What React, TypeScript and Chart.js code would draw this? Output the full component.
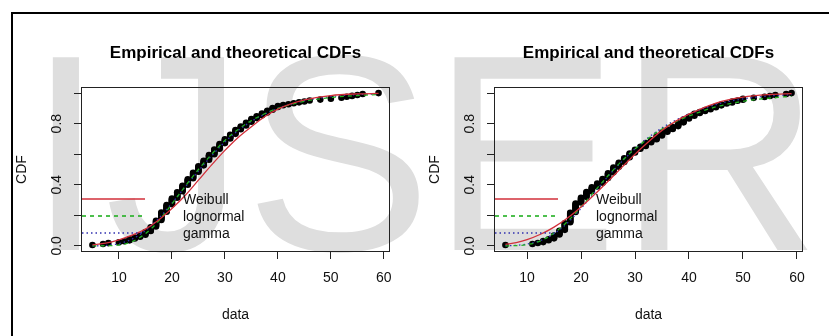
import React, { useEffect, useRef } from "react";
import { Chart, registerables } from "chart.js";

Chart.register(...registerables);

const FONT = "'Liberation Sans', Arial, Helvetica, sans-serif";
const TEXT = "#111111";
const AXIS = "#222222";
const RED = "#d22f3a";
const GREEN = "#22b022";
const BLUE = "#3030b0";

// ---------- data ----------
const titleText = "Empirical and theoretical CDFs";
const xAxisLabel = "data";
const yAxisLabel = "CDF";
const watermarkText = "IJSER";
const legendLabels = ["Weibull", "lognormal", "gamma"];
const xTicks = [10, 20, 30, 40, 50, 60];
const yTicks = [0, 0.2, 0.4, 0.6, 0.8, 1.0];
const yTickLabels = ["0.0", "", "0.4", "", "0.8", ""];

// left panel: observed (integer) values and number of observations at each value
const leftValues = [
  5, 6, 7, 8, 9, 10, 11, 12, 13, 14,
  15, 16, 17, 18, 19, 20, 21, 22, 23, 24,
  25, 26, 27, 28, 29, 30, 31, 32, 33, 34,
  35, 36, 37, 38, 39, 40, 41, 42, 43, 44,
  45, 46, 47, 48, 49, 50, 51, 52, 53, 54,
  55, 56, 57, 58, 59,
];
const leftCounts = [
  1, 0, 1, 1, 0, 1, 1, 2, 2, 2,
  4, 5, 7, 9, 8, 7, 7, 7, 7, 7,
  7, 6, 6, 6, 6, 5, 5, 5, 4, 4,
  4, 3, 3, 3, 3, 2, 1, 1, 1, 1,
  1, 1, 0, 1, 0, 1, 0, 1, 1, 1,
  1, 1, 0, 0, 1,
];
const leftCurveX = [5, 7.5, 10, 12.5, 15, 17.5, 20, 22.5, 25, 27.5, 30, 32.5, 35, 37.5, 40, 45, 50, 55, 59];
const leftWeibull = [0.006, 0.018, 0.04, 0.07, 0.11, 0.17, 0.245, 0.33, 0.43, 0.53, 0.625, 0.71, 0.78, 0.845, 0.895, 0.955, 0.984, 0.995, 0.998];
const leftLognormal = [0.0, 0.001, 0.006, 0.028, 0.08, 0.163, 0.275, 0.39, 0.5, 0.6, 0.69, 0.762, 0.82, 0.865, 0.9, 0.946, 0.971, 0.984, 0.991];
const leftGamma = [0.0, 0.003, 0.015, 0.045, 0.1, 0.18, 0.28, 0.385, 0.49, 0.59, 0.68, 0.755, 0.815, 0.862, 0.9, 0.95, 0.977, 0.99, 0.995];

// right panel
const rightValues = [
  6, 7, 8, 9, 10, 11, 12, 13, 14, 15,
  16, 17, 18, 19, 20, 21, 22, 23, 24, 25,
  26, 27, 28, 29, 30, 31, 32, 33, 34, 35,
  36, 37, 38, 39, 40, 41, 42, 43, 44, 45,
  46, 47, 48, 49, 50, 51, 52, 53, 54, 55,
  56, 57, 58, 59,
];
const rightCounts = [
  1, 0, 0, 0, 0, 1, 1, 2, 2, 4,
  5, 8, 11, 10, 6, 6, 5, 4, 5, 6,
  6, 5, 5, 5, 4, 3, 4, 3, 4, 4,
  3, 3, 4, 4, 3, 3, 2, 2, 2, 2,
  2, 1, 2, 1, 2, 0, 1, 0, 1, 1,
  1, 0, 1, 1,
];
const rightCurveX = [6, 8, 10, 12.5, 15, 17.5, 20, 22.5, 25, 27.5, 30, 32.5, 35, 37.5, 40, 45, 50, 55, 59];
const rightWeibull = [0.01, 0.022, 0.041, 0.076, 0.123, 0.183, 0.255, 0.336, 0.423, 0.512, 0.6, 0.682, 0.756, 0.815, 0.862, 0.935, 0.974, 0.991, 0.997];
const rightLognormal = [0.0, 0.002, 0.008, 0.033, 0.084, 0.16, 0.255, 0.358, 0.459, 0.554, 0.635, 0.705, 0.765, 0.812, 0.85, 0.91, 0.946, 0.968, 0.979];
const rightGamma = [0.001, 0.004, 0.012, 0.035, 0.08, 0.15, 0.245, 0.35, 0.455, 0.55, 0.636, 0.71, 0.772, 0.822, 0.862, 0.925, 0.962, 0.982, 0.99];

// ---------- helpers ----------
function ecdfPoints(values: number[], counts: number[]) {
  const n = counts.reduce((a, b) => a + b, 0);
  const pts: { x: number; y: number }[] = [];
  let k = 0;
  values.forEach((v, i) => {
    for (let j = 0; j < counts[i]; j++) {
      k += 1;
      pts.push({ x: v, y: k / n });
    }
  });
  return pts;
}

function curve(xs: number[], ys: number[]) {
  return xs.map((x, i) => ({ x, y: ys[i] }));
}

const PANEL_W = 413;
const PANEL_H = 336;

type PanelProps = {
  values: number[];
  counts: number[];
  curveX: number[];
  weibull: number[];
  lognormal: number[];
  gamma: number[];
  offsetX: number;
};

function CdfPanel({ values, counts, curveX, weibull, lognormal, gamma, offsetX }: PanelProps) {
  const ref = useRef<HTMLCanvasElement>(null);

  useEffect(() => {
    const canvas = ref.current;
    if (!canvas) return;
    const used = values.filter((_, i) => counts[i] > 0);
    const lo = Math.min(...used);
    const hi = Math.max(...used);
    const pad = (hi - lo) * 0.04;

    const decorations = {
      id: "rDecorations",
      beforeDraw(chart: any) {
        const ctx = chart.ctx;
        ctx.save();
        ctx.font = `280px ${FONT}`;
        ctx.fillStyle = "#dedede";
        ctx.textBaseline = "alphabetic";
        ctx.textAlign = "left";
        ctx.fillText(watermarkText, 27 - offsetX, 250);
        ctx.restore();
      },
      afterDraw(chart: any) {
        const ctx = chart.ctx;
        const a = chart.chartArea;
        const ys = chart.scales.y;
        ctx.save();
        // plot box
        ctx.strokeStyle = AXIS;
        ctx.lineWidth = 1;
        ctx.setLineDash([]);
        ctx.strokeRect(Math.round(a.left) + 0.5, Math.round(a.top) + 0.5, Math.round(a.right - a.left) - 1, Math.round(a.bottom - a.top) - 1);
        // rotated y tick labels
        ctx.fillStyle = TEXT;
        ctx.font = `14px ${FONT}`;
        ctx.textAlign = "center";
        ctx.textBaseline = "middle";
        yTicks.forEach((v, i) => {
          const lab = yTickLabels[i];
          if (!lab) return;
          const py = ys.getPixelForValue(v);
          ctx.save();
          ctx.translate(a.left - 24, py);
          ctx.rotate(-Math.PI / 2);
          ctx.fillText(lab, 0, 0);
          ctx.restore();
        });
        ctx.restore();
        // legend
        const colors = [RED, GREEN, BLUE];
        const dashes = [[], [4, 4], [1.5, 3]];
        const rowOffsets = [53, 36, 19];
        legendLabels.forEach((lab, i) => {
          const y = Math.round(a.bottom - rowOffsets[i]);
          ctx.save();
          ctx.lineWidth = 1.6;
          ctx.strokeStyle = colors[i];
          ctx.setLineDash(dashes[i]);
          ctx.beginPath();
          ctx.moveTo(a.left + 1, y);
          ctx.lineTo(a.left + 64, y);
          ctx.stroke();
          ctx.restore();
          ctx.save();
          ctx.fillStyle = TEXT;
          ctx.font = `14px ${FONT}`;
          ctx.textAlign = "left";
          ctx.textBaseline = "middle";
          ctx.fillText(lab, a.left + 102, y + 1);
          ctx.restore();
        });
      },
    };

    const gridOpts = {
      display: true,
      drawOnChartArea: false,
      drawTicks: true,
      tickLength: 7,
      color: AXIS,
      lineWidth: 1,
    };

    const chart = new Chart(canvas, {
      type: "scatter",
      data: {
        datasets: [
          {
            label: legendLabels[0],
            data: curve(curveX, weibull),
            showLine: true,
            borderColor: RED,
            borderWidth: 1.3,
            pointRadius: 0,
            cubicInterpolationMode: "monotone",
            order: 1,
          },
          {
            label: legendLabels[1],
            data: curve(curveX, lognormal),
            showLine: true,
            borderColor: GREEN,
            borderWidth: 1.3,
            borderDash: [4, 4],
            pointRadius: 0,
            cubicInterpolationMode: "monotone",
            order: 2,
          },
          {
            label: legendLabels[2],
            data: curve(curveX, gamma),
            showLine: true,
            borderColor: BLUE,
            borderWidth: 1.3,
            borderDash: [1.5, 3],
            pointRadius: 0,
            cubicInterpolationMode: "monotone",
            order: 3,
          },
          {
            label: "empirical",
            data: ecdfPoints(values, counts),
            showLine: false,
            pointRadius: 3.3,
            pointBackgroundColor: "#000",
            pointBorderColor: "#000",
            pointBorderWidth: 0,
            order: 4,
          },
        ],
      } as any,
      options: {
        animation: false,
        responsive: false,
        events: [],
        layout: { padding: { left: 0, right: 23, top: 0, bottom: 0 } },
        plugins: {
          legend: { display: false },
          tooltip: { enabled: false },
          title: {
            display: true,
            text: titleText,
            fullSize: false,
            color: "#000",
            font: { family: FONT, size: 17, weight: "bold", lineHeight: 1 },
            padding: { top: 44.5, bottom: 25.5 },
          },
        },
        scales: {
          x: {
            type: "linear",
            min: lo - pad,
            max: hi + pad,
            afterBuildTicks: (s: any) => {
              s.ticks = xTicks.map((v) => ({ value: v }));
            },
            afterFit: (s: any) => {
              s.height = 84;
            },
            grid: gridOpts,
            border: { display: false },
            ticks: {
              color: TEXT,
              font: { family: FONT, size: 14 },
              padding: 11,
              maxRotation: 0,
              autoSkip: false,
              callback: (v: any) => String(v),
            },
            title: {
              display: true,
              text: xAxisLabel,
              color: TEXT,
              font: { family: FONT, size: 14 },
              padding: { top: 0, bottom: 12.6 },
            },
          },
          y: {
            type: "linear",
            min: -0.04,
            max: 1.04,
            afterBuildTicks: (s: any) => {
              s.ticks = yTicks.map((v) => ({ value: v }));
            },
            afterFit: (s: any) => {
              s.width = 81;
            },
            grid: gridOpts,
            border: { display: false },
            ticks: { display: false },
            title: {
              display: true,
              text: yAxisLabel,
              color: TEXT,
              font: { family: FONT, size: 14 },
              padding: { top: 14, bottom: 0 },
            },
          },
        },
      } as any,
      plugins: [decorations],
    });

    return () => chart.destroy();
  }, []);

  return (
    <canvas
      ref={ref}
      width={PANEL_W}
      height={PANEL_H}
      style={{ position: "absolute", left: offsetX, top: 0, width: PANEL_W, height: PANEL_H }}
    />
  );
}

export default function App() {
  return (
    <div
      style={{
        position: "fixed",
        left: 0,
        top: 0,
        width: 829,
        height: 336,
        background: "#fff",
        overflow: "hidden",
      }}
    >
      <CdfPanel
        values={leftValues}
        counts={leftCounts}
        curveX={leftCurveX}
        weibull={leftWeibull}
        lognormal={leftLognormal}
        gamma={leftGamma}
        offsetX={0}
      />
      <CdfPanel
        values={rightValues}
        counts={rightCounts}
        curveX={rightCurveX}
        weibull={rightWeibull}
        lognormal={rightLognormal}
        gamma={rightGamma}
        offsetX={PANEL_W}
      />
      <div
        style={{
          position: "absolute",
          left: 11,
          top: 12,
          width: 818,
          height: 324,
          borderTop: "2px solid #000",
          borderLeft: "2px solid #000",
          boxSizing: "border-box",
        }}
      />
    </div>
  );
}
